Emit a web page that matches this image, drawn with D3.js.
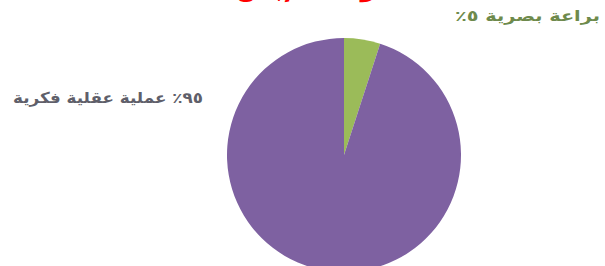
<!DOCTYPE html>
<html><head><meta charset="utf-8">
<script src="https://cdn.jsdelivr.net/npm/d3@7/dist/d3.min.js"></script>
<style>html,body{margin:0;padding:0;background:#fff;overflow:hidden}</style>
</head><body>
<svg id="c" width="605" height="266"></svg>
<script>
const categories = ["براعة بصرية", "عملية عقلية فكرية"];
const values = [5, 95];
const labels = ["براعة بصرية ٥٪", "٩٥٪ عملية عقلية فكرية"];
const colors = ["#9bbb59", "#7e61a1"];
const title = "مكونات الإبداع";

const svg = d3.select("#c");
const cx = 344, cy = 155, r = 117;

// partially cut-off red title (only its lower part shows, as in the source)
svg.append("text").attr("x", 320).attr("y", -4).attr("text-anchor", "middle")
  .attr("direction", "rtl").attr("font-family", "DejaVu Sans").attr("font-weight", "bold")
  .attr("font-size", 26).attr("fill", "#ff0000")
  .attr("textLength", 170).attr("lengthAdjust", "spacingAndGlyphs").text(title);

const pie = d3.pie().sort(null).value(d => d.v);
const arc = d3.arc().innerRadius(0).outerRadius(r);
const data = pie(categories.map((c, i) => ({c, v: values[i], col: colors[i]})));

svg.append("g").attr("transform", `translate(${cx},${cy})`)
  .selectAll("path").data(data).join("path")
  .attr("d", arc).attr("fill", d => d.data.col);

svg.append("text").attr("x", 600).attr("y", 21).attr("text-anchor", "start")
  .attr("direction", "rtl").attr("font-family", "DejaVu Sans").attr("font-weight", "bold")
  .attr("font-size", 15).attr("fill", "#6e8a4c")
  .attr("textLength", 145).attr("lengthAdjust", "spacingAndGlyphs").text(labels[0]);

svg.append("text").attr("x", 203).attr("y", 103).attr("text-anchor", "start")
  .attr("direction", "rtl").attr("font-family", "DejaVu Sans").attr("font-weight", "bold")
  .attr("font-size", 15).attr("fill", "#5f5f6a")
  .attr("textLength", 190).attr("lengthAdjust", "spacingAndGlyphs").text(labels[1]);
</script>
</body></html>
